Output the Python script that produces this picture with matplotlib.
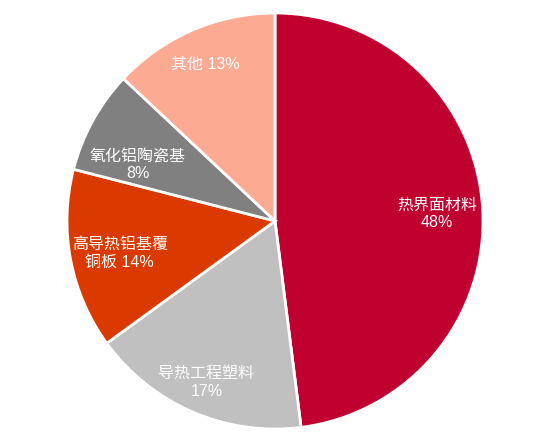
import numpy as np
import matplotlib
matplotlib.use("Agg")
import matplotlib.pyplot as plt

categories = ["热界面材料", "导热工程塑料", "高导热铝基覆铜板", "氧化铝陶瓷基", "其他"]
values = [48, 17, 14, 8, 13]
label_texts = ["热界面材料\n48%", "导热工程塑料\n17%", "高导热铝基覆\n铜板 14%", "氧化铝陶瓷基\n8%", "其他 13%"]
colors = ["#C0002F", "#C0C0C0", "#DA3A00", "#808080", "#FDAA92"]
label_dist = [0.78, 0.83, 0.76, 0.72, 0.84]
label_angle_shift = [0, 0, 0, 5.5, 0]

fig = plt.figure(figsize=(5.46, 4.39), dpi=100)
ax = fig.add_axes([0, 0, 1, 1])

cx, cy, r = 275, 439 - 222, 208
wedges, _ = ax.pie(values, colors=colors, startangle=90, counterclock=False,
                   center=(cx, cy), radius=r, frame=True,
                   wedgeprops=dict(edgecolor="white", linewidth=2))
ax.set_xlim(0, 546)
ax.set_ylim(0, 439)
ax.set_aspect("equal")
ax.axis("off")

fam = ["Liberation Sans", "Noto Sans CJK SC"]
for w, txt, d, sh in zip(wedges, label_texts, label_dist, label_angle_shift):
    ang = np.deg2rad((w.theta1 + w.theta2) / 2 + sh)
    x = cx + d * r * np.cos(ang)
    y = cy + d * r * np.sin(ang)
    ax.text(x, y - 2, txt, ha="center", va="center", color="white",
            fontsize=11.5, family=fam, linespacing=1.2)

fig.savefig("out.png", dpi=100)
